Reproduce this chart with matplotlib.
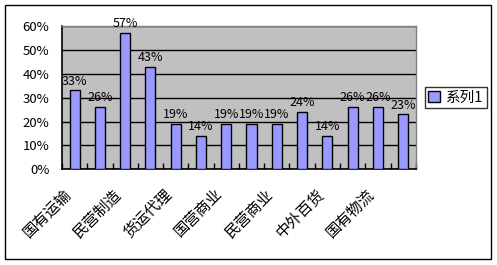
import matplotlib
matplotlib.use('Agg')
import numpy as np
from matplotlib import pyplot as plt
from matplotlib.patches import Rectangle
from matplotlib.ticker import FuncFormatter, MultipleLocator
from matplotlib.transforms import ScaledTranslation

plt.rcParams['font.family'] = ['Noto Sans CJK SC', 'DejaVu Sans']

# 14 categories, only every other one is labelled in the original chart
values = [33, 26, 57, 43, 19, 14, 19, 19, 19, 24, 14, 26, 26, 23]
shown_labels = ['国有运输', '民营制造', '货运代理', '国营商业', '民营商业', '中外百货', '国有物流']
series_name = '系列1'

x = np.arange(len(values))
fracs = np.array(values) / 100.0

fig = plt.figure(figsize=(4.97, 2.65), dpi=100)
ax = fig.add_axes([0.1247, 0.361, 0.712, 0.541])
ax.set_facecolor('#C0C0C0')

bars = ax.bar(x, fracs, width=0.4, color='#9999FF', edgecolor='black',
              linewidth=1, label=series_name, zorder=3)

for xi, f, v in zip(x, fracs, values):
    ax.text(xi, f + 0.012, f'{v}%', ha='center', va='bottom', fontsize=9,
            zorder=4)

ax.set_xlim(-0.5, len(values) - 0.5)
ax.set_ylim(0, 0.6)
ax.yaxis.set_major_locator(MultipleLocator(0.1))
ax.yaxis.set_major_formatter(FuncFormatter(lambda v, p: f'{v * 100:.0f}%'))
ax.grid(axis='y', color='black', linewidth=1, zorder=1)
ax.set_axisbelow(True)

# category labels, every other one, rotated 45 and nudged like the original
ax.set_xticks(x[::2])
ax.set_xticklabels([])
lbl_trans = ax.get_xaxis_transform() + ScaledTranslation(-0.12, -0.16, fig.dpi_scale_trans)
for xi, name in zip(x[::2], shown_labels):
    ax.text(xi, 0, name, rotation=45, ha='right', va='top',
            rotation_mode='anchor', fontsize=11, transform=lbl_trans)

ax.set_xticks(np.arange(-0.5, len(values)), minor=True)
ax.tick_params(axis='x', which='major', length=0)
ax.tick_params(axis='x', which='minor', direction='in', length=4,
               width=1, color='black')
ax.tick_params(axis='y', length=0, labelsize=9.5, pad=9)

for side in ['left', 'bottom']:
    ax.spines[side].set_color('black')
    ax.spines[side].set_linewidth(1.2)
for side in ['top', 'right']:
    ax.spines[side].set_color('#808080')
    ax.spines[side].set_linewidth(1)

leg = ax.legend(loc='center left', bbox_to_anchor=(1.025, 0.5), fontsize=10.5,
                frameon=True, fancybox=False, edgecolor='black',
                handlelength=0.8, handleheight=0.8, handletextpad=0.4,
                borderpad=0.25, borderaxespad=0)
leg.get_frame().set_linewidth(1)

fig.patches.append(Rectangle((5 / 497, 6 / 265), 486 / 497, 254 / 265,
                             transform=fig.transFigure, fill=False,
                             edgecolor='black', linewidth=1))

fig.savefig('out.png', dpi=100, facecolor='white')
